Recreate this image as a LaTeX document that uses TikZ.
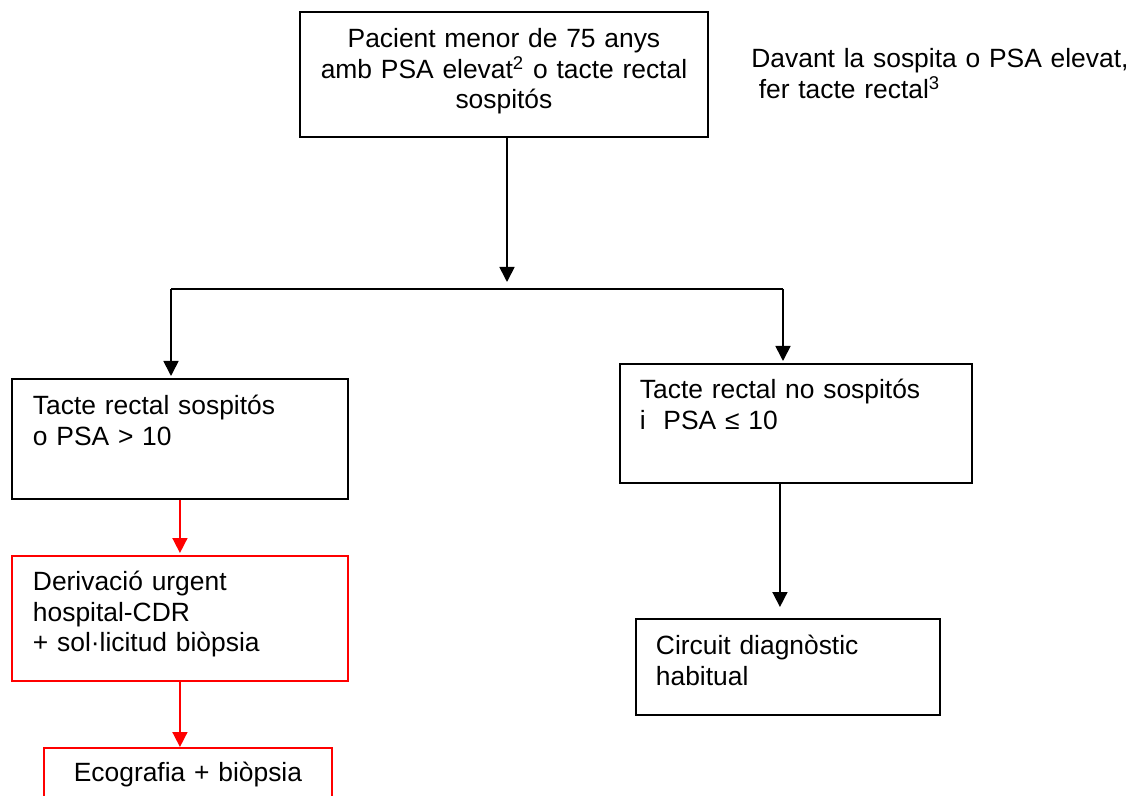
\documentclass[tikz,border=0pt]{standalone}
\usepackage{fontspec}
\setmainfont{Liberation Sans}
\usepackage{tikz}
\usetikzlibrary{
  arrows.meta,
  positioning
}
\definecolor{FRred}{RGB}{255,0,0}

\begin{document}
\begin{tikzpicture}[
      x=0.5pt, y=-0.5pt,
      >={Triangle[length=7.5pt,width=7.5pt]},
      font=\fontsize{13.2}{15.25}\selectfont,
      flowbox/.style={
        rectangle, draw=#1, line width=0.95pt,
        anchor=north west, align=left,
        inner xsep=10.5pt, inner ysep=0pt,
        text height=18pt
      },
      flownote/.style={anchor=base west, inner sep=0pt, text width=190pt, align=left},
      flowarr/.style={->, draw=#1, line width=0.85pt},
      flowline/.style={draw=black, line width=0.85pt}
    ]
    \useasboundingbox (0,0) rectangle (1130,796);
    \clip (0,0) rectangle (1130,796);

    % Level 1: patient
    \node[flowbox=black, align=center, inner xsep=9pt, text width=186pt, text depth=44.5pt] (pac) at (299,11)
      {Pacient menor de 75 anys\\amb PSA elevat\textsuperscript{2} o tacte rectal\\sospitós};

    % side remark
    \node[flownote] (note) at (751,68)
      {Davant la sospita o PSA elevat,\\\hspace*{0.28em}fer tacte rectal\textsuperscript{3}};

    % Level 2: two branches
    \node[flowbox=black, text width=147pt, text depth=42pt] (lbox) at (11,378)
      {Tacte rectal sospitós\\o PSA > 10};
    \node[flowbox=black, inner xsep=10pt, text width=156pt, text height=17.5pt, text depth=42pt] (rbox) at (619,363)
      {Tacte rectal no sospitós\\i\ \ PSA ≤ 10};

    % Level 3: urgent track (red) and usual circuit
    \node[flowbox=FRred, text width=147pt, text height=17.5pt, text depth=45pt] (urg) at (11,555)
      {Derivació urgent\\hospital-CDR\\+ sol·licitud biòpsia};
    \node[flowbox=black, inner xsep=10pt, text width=132pt, text depth=30pt] (circ) at (635,618)
      {Circuit diagnòstic\\habitual};

    % Level 4: cut at the page edge
    \node[flowbox=FRred, align=center, inner xsep=10pt, text width=124pt, text height=17pt, text depth=30pt] (eco) at (43,747)
      {Ecografia + biòpsia};

    % Arrows
    \coordinate (fork)  at (507,289);
    \coordinate (forkL) at (171,289);
    \coordinate (forkR) at (783,289);

    \draw[flowarr=black, shorten >=3.5pt] (pac.south -| fork) -- (fork);
    \draw[flowline] (forkL) -- (forkR);
    \draw[flowarr=black, shorten >=1pt] (forkL) -- (forkL |- lbox.north);
    \draw[flowarr=black, shorten >=1pt] (forkR) -- (forkR |- rbox.north);

    \draw[flowarr=FRred, shorten >=1pt] (lbox.south) -- (urg.north);
    \draw[flowarr=FRred] (urg.south) -- (urg.south |- eco.north);

    \draw[flowarr=black, shorten >=5.5pt] ([xshift=-8pt]rbox.south) -- ([xshift=-8pt]rbox.south |- circ.north);
  \end{tikzpicture}
\end{document}
